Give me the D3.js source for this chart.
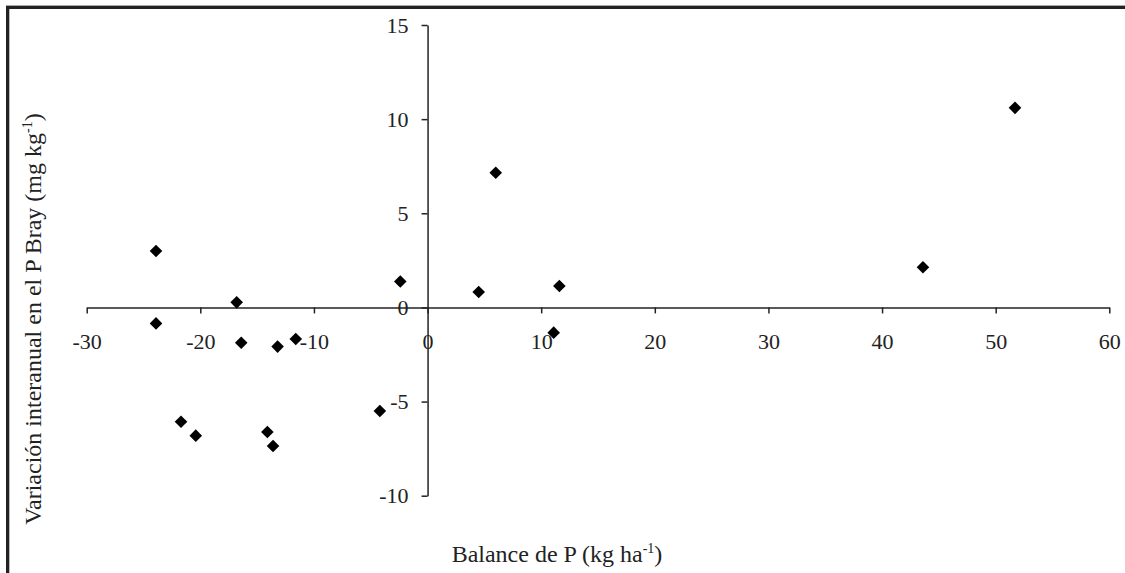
<!DOCTYPE html>
<html>
	<head>
		<meta charset="utf-8">
		<title>Balance de P</title>
		<script src="https://d3js.org/d3.v7.min.js"></script>
		<style type="text/css">
			body {margin: 0; background: #fff;}
			svg text {font-family: "Liberation Serif", "DejaVu Serif", serif !important; font-size: 22px; fill: #222;}
			svg text.titulo {font-size: 24px;}
			.axis path, .axis line {stroke: #222; stroke-width: 1.5px;}
		</style>
	</head>
	<body>
		<svg width=1125 height=573></svg>
	</body>
	<script type="text/javascript">
		// datos
		var balance = [-23.9, -23.9, -16.8, -16.4, -13.2, -11.6, -2.4, -4.2, -21.7, -20.4, -14.1, -13.6, 6.0, 4.5, 11.6, 11.1, 43.6, 51.7];
		var variacion = [3.0, -0.85, 0.27, -1.88, -2.08, -1.68, 1.38, -5.5, -6.07, -6.81, -6.62, -7.36, 7.15, 0.82, 1.14, -1.34, 2.13, 10.6];
		var xTicks = [-30, -20, -10, 0, 10, 20, 30, 40, 50, 60];
		var yTicks = [-10, -5, 0, 5, 10, 15];

		var serif = "'Liberation Serif', 'DejaVu Serif', serif";
		var svg = d3.select("svg");

		// marco
		svg.append("line").attr("x1", 6).attr("x2", 1125).attr("y1", 5.5).attr("y2", 5.5)
			.attr("stroke", "#aaa").attr("stroke-width", 1);
		svg.append("rect")
			.attr("x", 7.5).attr("y", 7.5).attr("width", 1200).attr("height", 700)
			.attr("fill", "none").attr("stroke", "#222").attr("stroke-width", 3);
		svg.append("line").attr("x1", 9.5).attr("x2", 9.5).attr("y1", 9).attr("y2", 573)
			.attr("stroke", "#bbb").attr("stroke-width", 1);

		var x = d3.scaleLinear().domain([-30, 60]).range([86.7, 1109.3]),
		    y = d3.scaleLinear().domain([-10, 15]).range([495.7, 25]);

		var fmt = function(d) { return String(d); }; // guion normal, no signo menos

		svg.append("g")
			.attr("class", "axis")
			.attr("transform", "translate(0," + y(0) + ")")
			.call(d3.axisBottom(x).tickValues(xTicks).tickSize(6).tickSizeOuter(0).tickPadding(20).tickFormat(fmt));

		svg.append("g")
			.attr("class", "axis")
			.attr("transform", "translate(" + x(0) + ",0)")
			.call(d3.axisLeft(y).tickValues(yTicks).tickSize(6).tickSizeOuter(0).tickPadding(13).tickFormat(fmt));

		svg.selectAll(".axis").attr("font-family", serif).attr("font-size", 22);
		svg.selectAll(".axis text").attr("fill", "#222");

		// puntos (rombos)
		svg.append("g").selectAll("path")
			.data(balance)
			.enter().append("path")
			.attr("transform", function(d, i) { return "translate(" + x(d) + "," + y(variacion[i]) + ")"; })
			.attr("d", "M0,-6.3L6.3,0L0,6.3L-6.3,0Z")
			.attr("fill", "#000");

		// titulos
		var xt = svg.append("text").attr("class", "titulo").attr("x", 557).attr("y", 562).attr("text-anchor", "middle");
		xt.append("tspan").text("Balance de P (kg ha");
		xt.append("tspan").attr("dy", -9).style("font-size", "14px").text("-1");
		xt.append("tspan").attr("dy", 9).text(")");

		var yt = svg.append("text").attr("class", "titulo").attr("transform", "translate(41,319) rotate(-90)").attr("text-anchor", "middle");
		yt.append("tspan").text("Variación interanual en el P Bray (mg kg");
		yt.append("tspan").attr("dy", -9).style("font-size", "14px").text("-1");
		yt.append("tspan").attr("dy", 9).text(")");
	</script>
</html>
